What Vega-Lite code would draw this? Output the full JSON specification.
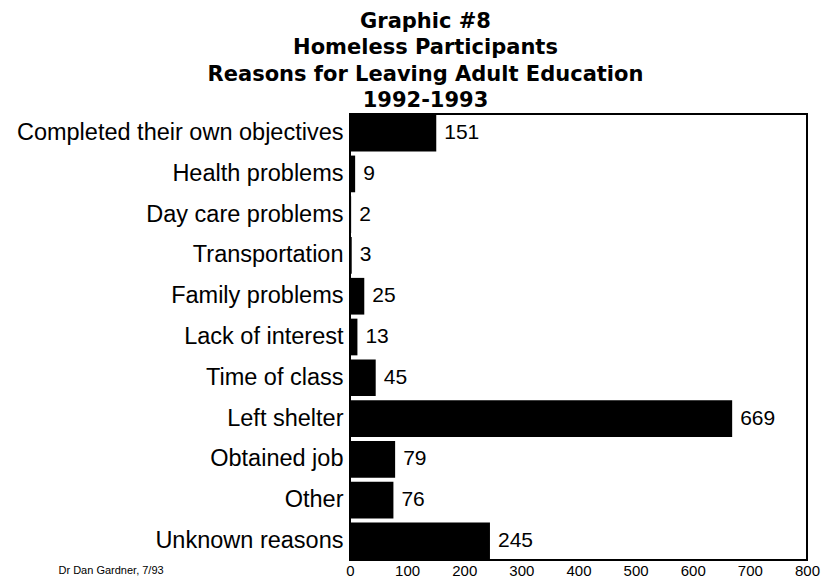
{
  "$schema": "https://vega.github.io/schema/vega-lite/v6.json",
  "autosize": {"type": "none"},
  "padding": {"left": 350, "top": 114, "right": 16, "bottom": 21},
  "width": 457,
  "height": 446,
  "background": "white",
  "title": {
    "text": ["Graphic #8", "Homeless Participants", "Reasons for Leaving Adult Education", "1992-1993"],
    "font": "DejaVu Sans",
    "fontWeight": "bold",
    "fontSize": 21,
    "lineHeight": 26.5,
    "color": "black",
    "anchor": "middle",
    "frame": "group",
    "dx": -153,
    "offset": 3
  },
  "data": {
    "values": [
      {"reason": "Completed their own objectives", "count": 151},
      {"reason": "Health problems", "count": 9},
      {"reason": "Day care problems", "count": 2},
      {"reason": "Transportation", "count": 3},
      {"reason": "Family problems", "count": 25},
      {"reason": "Lack of interest", "count": 13},
      {"reason": "Time of class", "count": 45},
      {"reason": "Left shelter", "count": 669},
      {"reason": "Obtained job", "count": 79},
      {"reason": "Other", "count": 76},
      {"reason": "Unknown reasons", "count": 245}
    ]
  },
  "encoding": {
    "y": {
      "field": "reason",
      "type": "nominal",
      "sort": null,
      "scale": {"paddingInner": 0.1, "paddingOuter": 0.02},
      "axis": {
        "title": null,
        "ticks": false,
        "domain": false,
        "labelFont": "Liberation Sans",
        "labelFontSize": 23.5,
        "labelColor": "black",
        "labelPadding": 7,
        "labelLimit": 400
      }
    },
    "x": {
      "field": "count",
      "type": "quantitative",
      "scale": {"domain": [0, 800], "nice": false},
      "axis": {
        "values": [0, 100, 200, 300, 400, 500, 600, 700, 800],
        "grid": false,
        "ticks": false,
        "domain": false,
        "labelFont": "Liberation Sans",
        "labelFontSize": 15,
        "labelFontWeight": "normal",
        "labelColor": "black",
        "labelPadding": 3,
        "labelFlush": false,
        "title": "Dr  Dan Gardner, 7/93",
        "titleFont": "Liberation Sans",
        "titleFontSize": 11,
        "titleFontWeight": "normal",
        "titleColor": "black",
        "titleAnchor": "start",
        "titleAlign": "left",
        "titleX": -292,
        "titleY": 10,
        "titleBaseline": "middle"
      }
    }
  },
  "layer": [
    {"mark": {"type": "bar", "color": "black"}},
    {
      "mark": {"type": "text", "align": "left", "baseline": "middle", "dx": 8, "font": "Liberation Sans", "fontSize": 21, "color": "black"},
      "encoding": {"text": {"field": "count", "type": "quantitative"}}
    }
  ],
  "config": {
    "view": {"stroke": "black", "strokeWidth": 2}
  }
}
